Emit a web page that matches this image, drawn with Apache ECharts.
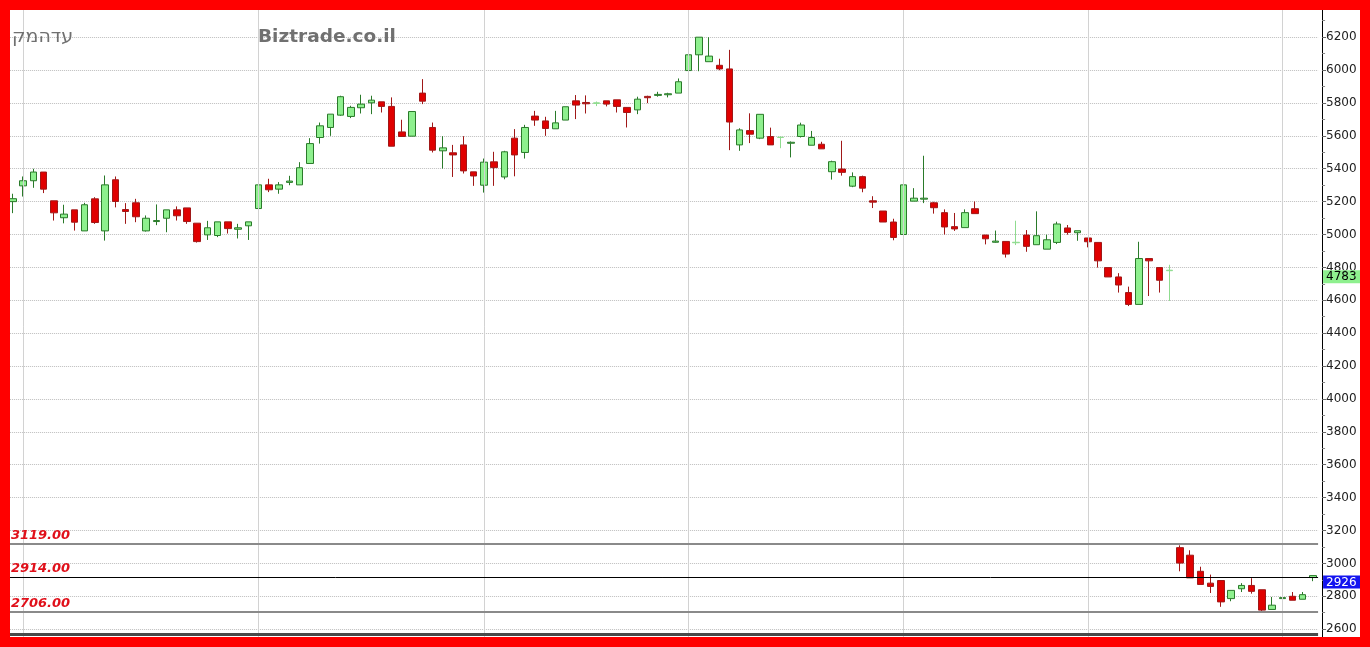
<!DOCTYPE html>
<html>
<head>
<meta charset="utf-8">
<script src="https://cdn.jsdelivr.net/npm/echarts@6/dist/echarts.min.js"></script>
<style>
html,body{margin:0;padding:0;background:#fff;}
#wrap{position:relative;width:1370px;height:647px;overflow:hidden;background:#fff;}
#chart{position:absolute;left:0;top:0;width:1370px;height:647px;}
#frame{position:absolute;left:0;top:0;width:1370px;height:647px;box-sizing:border-box;border:10px solid #ff0000;pointer-events:none;}
</style>
</head>
<body>
<div id="wrap"><div id="chart"></div><div id="frame"></div></div>
<script>
// ---- data ----
const opens = [
5200,5296,5327,5380,5205,5102,5150,5022,5217,5022,5333,5152,5193,5022,5079,5099,
5150,5162,5069,4998,4994,5077,5032,5053,5158,5302,5276,5317,5302,5432,5590,5651,
5726,5718,5771,5801,5807,5779,5624,5598,5860,5651,5509,5497,5545,5381,5300,5442,
5350,5586,5499,5720,5691,5643,5696,5813,5803,5797,5813,5819,5773,5758,5840,5846,
5850,5860,5997,6093,6051,6029,6007,5545,5632,5586,5596,5590,5555,5596,5543,5549,
5382,5398,5294,5352,5205,5143,5076,5000,5203,5215,5193,5133,5048,5042,5157,4997,
4953,4958,4950,4997,4938,4911,4952,5040,5011,4979,4952,4799,4742,4647,4575,4854,
4799,4780,3096,3050,2952,2880,2896,2786,2846,2866,2840,2720,2786,2800,2782,2914];
const closes = [
5218,5327,5380,5276,5132,5124,5075,5181,5073,5302,5201,5140,5108,5099,5085,5150,
5114,5079,4957,5041,5077,5036,5041,5077,5302,5272,5302,5325,5406,5553,5661,5732,
5838,5773,5793,5817,5779,5537,5596,5748,5811,5513,5527,5484,5387,5356,5440,5407,
5503,5484,5651,5696,5645,5679,5777,5787,5795,5801,5793,5779,5742,5823,5832,5852,
5856,5929,6093,6200,6085,6007,5684,5636,5610,5731,5545,5592,5561,5666,5590,5521,
5443,5378,5352,5282,5197,5076,4982,5302,5221,5221,5163,5046,5034,5133,5127,4974,
4960,4881,4953,4928,4993,4968,5064,5013,5023,4956,4840,4742,4693,4575,4854,4840,
4722,4783,3002,2912,2872,2860,2766,2836,2866,2830,2716,2746,2792,2776,2810,2926];
const lows = [
5130,5231,5284,5252,5085,5068,5024,5022,5065,4963,5165,5065,5075,5018,5057,5014,
5085,5065,4951,4967,4984,5006,4976,4967,5118,5258,5248,5300,5302,5432,5553,5600,
5722,5708,5736,5732,5742,5537,5596,5598,5793,5499,5401,5350,5371,5296,5255,5296,
5336,5354,5462,5661,5600,5643,5696,5702,5736,5781,5779,5742,5651,5732,5799,5838,
5834,5860,5997,5993,6051,5999,5513,5509,5556,5580,5545,5525,5469,5590,5543,5521,
5334,5358,5288,5257,5161,5076,4965,5000,5203,5191,5127,5000,5022,5042,5127,4940,
4950,4860,4936,4895,4938,4911,4942,4999,4962,4922,4799,4742,4647,4565,4575,4626,
4647,4596,2952,2912,2872,2820,2736,2770,2826,2816,2710,2720,2782,2776,2782,2892];
const highs = [
5248,5353,5400,5380,5205,5181,5150,5193,5227,5359,5353,5191,5217,5116,5183,5150,
5171,5162,5069,5083,5077,5077,5065,5077,5380,5339,5319,5357,5440,5586,5681,5732,
5844,5783,5850,5844,5807,5834,5698,5748,5945,5681,5598,5545,5598,5381,5462,5503,
5509,5641,5667,5752,5716,5752,5777,5848,5846,5809,5813,5819,5773,5838,5844,5868,
5862,5949,6109,6200,6200,6069,6123,5646,5737,5731,5650,5596,5566,5680,5630,5564,
5449,5570,5378,5358,5233,5143,5096,5318,5282,5479,5199,5153,5131,5153,5201,4997,
5024,4958,5084,5027,5141,4999,5078,5058,5023,4979,4952,4799,4765,4683,4956,4854,
4799,4816,3110,3080,2980,2932,2896,2836,2880,2910,2840,2796,2800,2826,2826,2926];

// trading-day labels (hidden in the reference, covered by the frame)
const categories = opens.map((_, i) => 'D' + (i + 1));
// first trading day of each month (index into categories)
const monthStarts = [1, 24, 46, 66, 87, 105, 124];
// horizontal support / resistance levels
const levels = [3119, 2914, 2706];
// last-price tags on the price axis
const oldLast = 4783;
const newLast = 2926;
// axis range
const yMin = 2400, yMax = 6400, yStep = 200;
const axisFloor = 2570;
// header texts (the stock name is drawn in visual order in the reference)
const stockName = '\u202D' + 'קמהדע' + '\u202C';
const siteName = 'Biztrade.co.il';

// ---- build ----
const faint = new Set([57, 75, 98, 113]);
const data = opens.map((o, i) => {
  const d = { value: [o, closes[i], lows[i], highs[i]] };
  if (faint.has(i)) d.itemStyle = { borderColor: '#8fdc8f', color: '#8fdc8f' };
  return d;
});

const levelStyle = [
  { color: '#8a8a8a', width: 2 },
  { color: '#000000', width: 1 },
  { color: '#8a8a8a', width: 2 }
];

const markData = [];
monthStarts.forEach(i => markData.push({
  xAxis: categories[i],
  lineStyle: { color: '#d2d2d2', width: 1, type: 'solid' },
  label: { show: false }
}));
levels.forEach((v, k) => markData.push({
  yAxis: v,
  lineStyle: Object.assign({ type: 'solid' }, levelStyle[k]),
  label: {
    show: true, position: 'insideStartTop', distance: [3, 2],
    formatter: p => Number(p.value).toFixed(2),
    color: '#e0101a', fontStyle: 'italic', fontWeight: 'bold',
    fontSize: 13, fontFamily: 'DejaVu Sans'
  }
}));
markData.push({
  yAxis: axisFloor,
  lineStyle: { color: '#4a4a4a', width: 3, type: 'solid' },
  label: { show: false }
});

const tagLine = (value, bg, fg) => ({
  yAxis: value,
  lineStyle: { color: 'rgba(0,0,0,0)', width: 1, type: 'solid' },
  label: {
    show: true, position: 'end', distance: 5, verticalAlign: 'top', align: 'left',
    formatter: p => String(p.value), color: fg, backgroundColor: bg,
    padding: [1, 5, 0, 3], fontSize: 12, fontFamily: 'DejaVu Sans'
  }
});
const tagData = [tagLine(oldLast, '#8ef08e', '#000'), tagLine(newLast, '#1414f0', '#fff')];

const chart = echarts.init(document.getElementById('chart'), null, { renderer: 'canvas' });
chart.setOption({
  animation: false,
  backgroundColor: '#ffffff',
  title: [
    { text: stockName, left: 12, top: 28, padding: 0,
      textStyle: { color: '#707070', fontSize: 19, fontWeight: 'normal', fontFamily: 'DejaVu Sans' } },
    { text: siteName, left: 258, top: 28, padding: 0,
      textStyle: { color: '#707070', fontSize: 18.5, fontWeight: 'bold', fontFamily: 'DejaVu Sans' } }
  ],
  grid: { left: 7.88, top: 4.3, width: 1310.2, height: 657.78, containLabel: false, outerBoundsMode: 'none' },
  xAxis: {
    type: 'category', data: categories, boundaryGap: true,
    axisLine: { show: false }, axisTick: { show: false },
    axisLabel: { show: false }, splitLine: { show: false }
  },
  yAxis: {
    type: 'value', position: 'right', offset: 4,
    min: yMin, max: yMax, interval: yStep,
    axisLine: { show: true, lineStyle: { color: '#000', width: 1 } },
    axisTick: { show: true, length: 4, lineStyle: { color: '#666' } },
    minorTick: { show: true, splitNumber: 2, length: 3, lineStyle: { color: '#888' } },
    axisLabel: { color: '#222', fontSize: 12, fontFamily: 'DejaVu Sans', margin: 4, formatter: v => String(v) },
    splitLine: { show: true, lineStyle: { color: '#bdbdbd', type: 'dotted', width: 1 } }
  },
  series: [{
    type: 'candlestick',
    data: data,
    barWidth: 7,
    clip: false,
    itemStyle: {
      color: '#8ef08e', color0: '#e00000',
      borderColor: '#2a7a2a', borderColor0: '#a01818', borderWidth: 1
    },
    markLine: {
      silent: true, animation: false, symbol: ['none', 'none'],
      precision: 0,
      data: markData
    }
  }, {
    type: 'line',
    data: [],
    silent: true,
    markLine: {
      silent: true, animation: false, symbol: ['none', 'none'],
      precision: 0,
      data: tagData
    }
  }]
});
</script>
</body>
</html>
